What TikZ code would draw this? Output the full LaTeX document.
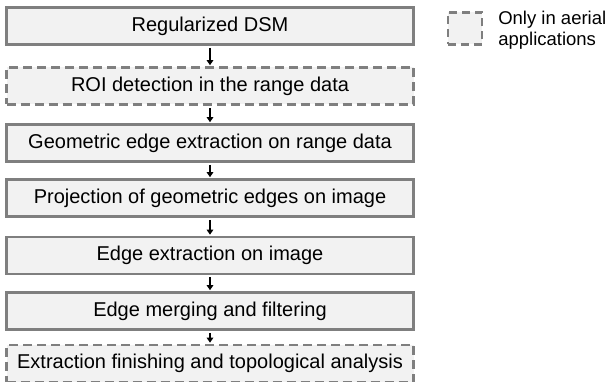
\documentclass[tikz,border=0pt]{standalone}
\usepackage{fontspec}
\setmainfont{Liberation Sans}
\usetikzlibrary{arrows.meta}
\definecolor{boxfill}{HTML}{F2F2F2}
\definecolor{boxline}{HTML}{7F7F7F}
\tikzset{
  stepbox/.style={draw=boxline, fill=boxfill, line width=2.6pt, minimum width=407pt, minimum height=37pt, inner sep=0pt, font=\fontsize{20}{23}\selectfont},
  dashbox/.style={stepbox, dash pattern=on 9pt off 5pt},
  flow/.style={-{Triangle[length=5pt,width=6.5pt]}, line width=1.8pt, black, shorten >=1pt, shorten <=2pt},
}
\begin{document}
\begin{tikzpicture}[x=1pt,y=-1pt]
\useasboundingbox (0,0) rectangle (606,382);
\node[stepbox] (a) at (210,26) {Regularized DSM};
\node[dashbox] (b) at (210,86) {ROI detection in the range data};
\node[stepbox] (c) at (210,143) {Geometric edge extraction on range data};
\node[stepbox] (d) at (210,198) {Projection of geometric edges on image};
\node[stepbox] (e) at (210,255.5) {Edge extraction on image};
\node[stepbox] (f) at (210,311) {Edge merging and filtering};
\node[dashbox] (g) at (210,363.5) {Extraction finishing and topological analysis};
\draw[flow] (a) -- (b);
\draw[flow] (b) -- (c);
\draw[flow] (c) -- (d);
\draw[flow] (d) -- (e);
\draw[flow] (e) -- (f);
\draw[flow] (f) -- (g);
\node[draw=boxline, fill=boxfill, line width=2.2pt, dash pattern=on 8pt off 5pt, minimum width=34pt, minimum height=32pt, inner sep=0pt] (leg) at (465,28.5) {};
\node[anchor=west, align=left, inner sep=0pt, font=\fontsize{18.5}{21.5}\selectfont] (legtext) at ([xshift=15pt,yshift=-1.5pt]leg.east) {Only in aerial\\applications};
\end{tikzpicture}
\end{document}
